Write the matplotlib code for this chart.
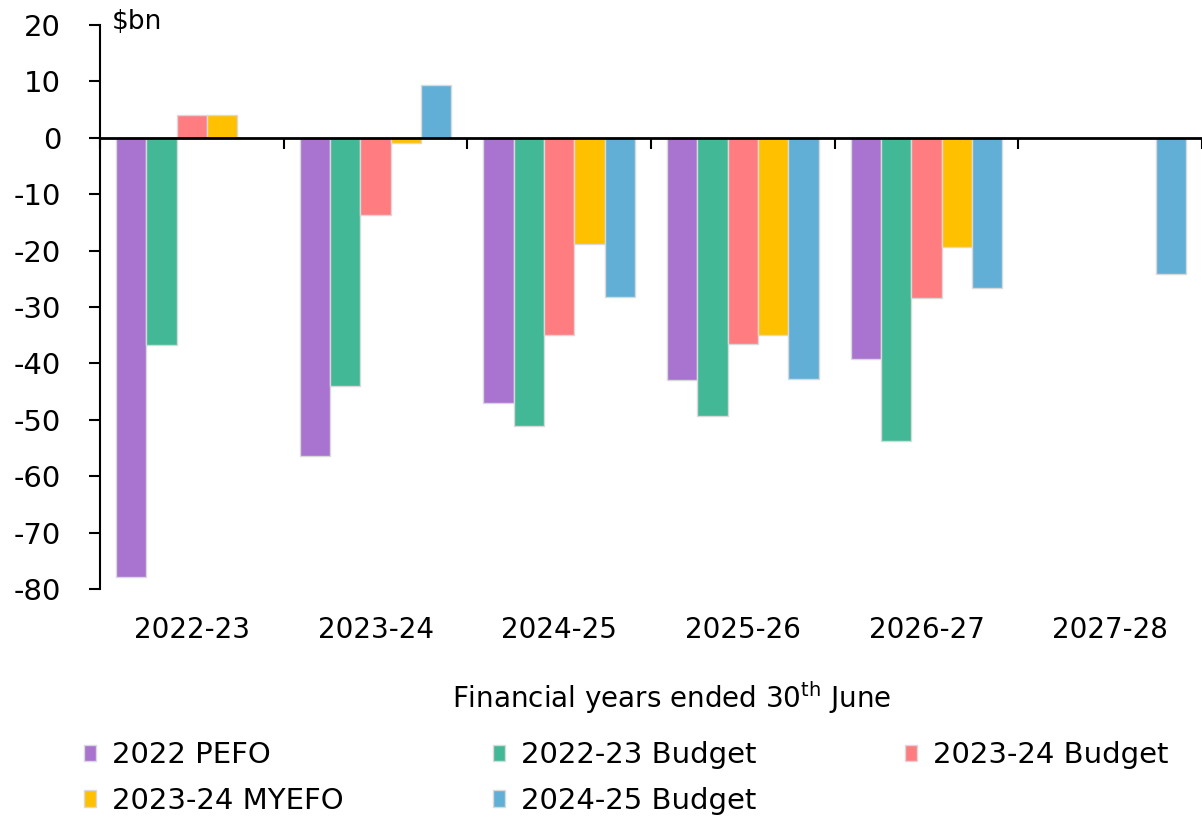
import numpy as np
import matplotlib
matplotlib.use("Agg")
import matplotlib.pyplot as plt
import matplotlib.transforms as mtransforms
from matplotlib.patches import Patch

plt.rcParams['font.family'] = ['DejaVu Sans']
plt.rcParams['axes.unicode_minus'] = False

years = ["2022-23", "2023-24", "2024-25", "2025-26", "2026-27", "2027-28"]
series = ["2022 PEFO", "2022-23 Budget", "2023-24 Budget", "2023-24 MYEFO", "2024-25 Budget"]

# $bn, nan = not published for that year
pefo_2022 = [-77.8, -56.4, -47.0, -43.0, -39.2, np.nan]
budget_2223 = [-36.7, -44.0, -51.1, -49.3, -53.7, np.nan]
budget_2324 = [4.0, -13.7, -35.0, -36.5, -28.4, np.nan]
myefo_2324 = [4.0, -1.0, -18.8, -35.0, -19.4, np.nan]
budget_2425 = [np.nan, 9.3, -28.2, -42.7, -26.6, -24.2]

values = [pefo_2022, budget_2223, budget_2324, myefo_2324, budget_2425]
colors = ["#a974cf", "#43b896", "#ff7c80", "#ffc000", "#61afd6"]

fig = plt.figure(figsize=(12.02, 8.17), dpi=100)
ax = fig.add_axes([100 / 1202, 228 / 817, 1102 / 1202, 564 / 817])

x = np.arange(len(years))
bw = 0.165
for i, (vals, c) in enumerate(zip(values, colors)):
    ax.bar(x + (i - 2) * bw, vals, bw, color=c, edgecolor="#d9d9d9", linewidth=1)

ax.set_xlim(-0.5, -0.5 + 1102 / 185)
ax.set_ylim(-80, 20)
ax.set_yticks(np.arange(-80, 21, 10))
ax.tick_params(axis="y", direction="out", length=8, width=1.5, pad=20, labelsize=21)

# zero line with category separators
ax.spines["bottom"].set_position(("data", 0))
ax.spines["bottom"].set_linewidth(2)
ax.spines["left"].set_linewidth(1.5)
ax.spines["top"].set_visible(False)
ax.spines["right"].set_visible(False)
ax.set_xticks(np.arange(len(years) + 1) - 0.5)
ax.tick_params(axis="x", direction="out", length=8, width=1.5, labelbottom=False)

trans = mtransforms.blended_transform_factory(ax.transData, ax.transAxes)
for xi, lab in zip(x, years):
    ax.text(xi, -0.073, lab, transform=trans, ha="center", va="center", fontsize=20)

ax.text(0.011, 1.005, r"\$bn", transform=ax.transAxes, ha="left", va="center", fontsize=19)

fig.text(672 / 1202, 1 - 698 / 817, r"Financial years ended 30$^{\rm th}$ June",
         ha="center", va="center", fontsize=20)

handles = [Patch(facecolor=c, edgecolor="#d9d9d9") for c in colors]
order = [0, 3, 1, 4, 2]
fig.legend([handles[i] for i in order], [series[i] for i in order],
           ncol=3, loc="upper left", bbox_to_anchor=(58 / 1202, 1 - 715 / 817),
           frameon=False, fontsize=21, handlelength=0.4, handleheight=0.5,
           handletextpad=0.55, columnspacing=5.12, labelspacing=0.6)

fig.savefig("out.png", dpi=100)
